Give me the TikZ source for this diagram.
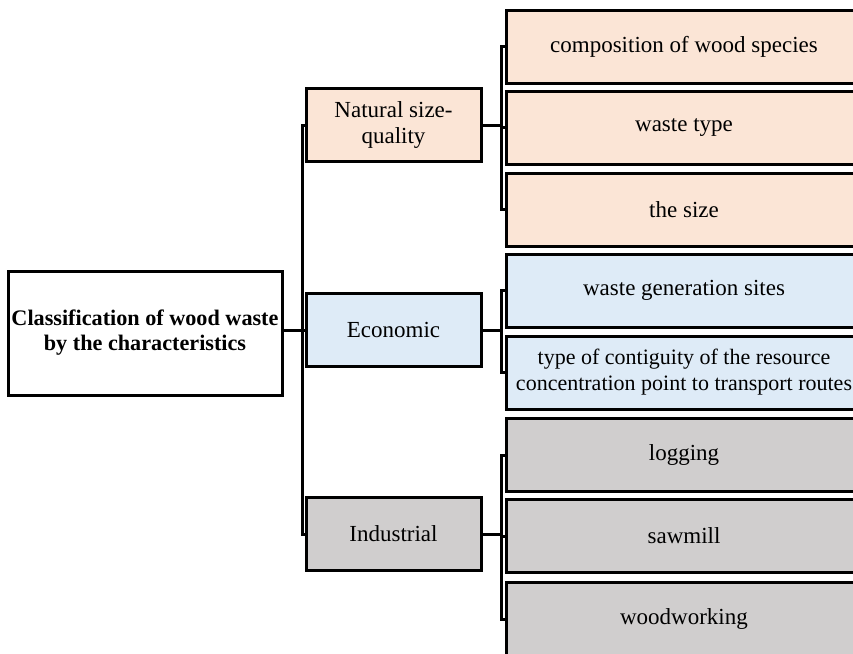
\documentclass[tikz,border=0pt]{standalone}
\usepackage{fontspec}
\setmainfont{Liberation Serif}
\begin{document}
\begin{tikzpicture}[x=1pt,y=-1pt,
  every node/.style={inner sep=0pt, align=center, font=\fontsize{23}{26}\selectfont},
  box/.style={draw=black, line width=3pt, rectangle},
  rootbox/.style={box, fill=white, minimum width=274pt, minimum height=124pt,
    font=\fontsize{22.2}{25}\selectfont\bfseries},
  midbox/.style={box, minimum width=175pt, minimum height=73pt},
  leafbox/.style={box, minimum width=356pt, minimum height=73pt},
  peach/.style={fill=peachfill},
  sky/.style={fill=skyfill},
  stone/.style={fill=stonefill},
  link/.style={draw=black, line width=3pt}
]
\definecolor{peachfill}{HTML}{FBE5D6}
\definecolor{skyfill}{HTML}{DEEBF7}
\definecolor{stonefill}{HTML}{D0CECE}

\useasboundingbox (0,0) rectangle (853,653);
\clip (0,0) rectangle (853,653);

% root
\node[rootbox] (root) at (145,333) {Classification of wood waste\\by the characteristics};

% middle level
\node[midbox, peach] (nat) at (393.5,125) {Natural size-\\quality};
\node[midbox, sky]   (eco) at (393.5,330) {Economic};
\node[midbox, stone] (ind) at (393.5,534) {Industrial};

% leaves
\node[leafbox, peach] (comp)  at (684,46.5)  {composition of wood species};
\node[leafbox, peach] (wtype) at (684,127.5) {waste type};
\node[leafbox, peach] (size)  at (684,209.5) {the size};
\node[leafbox, sky]   (sites) at (684,290.5) {waste generation sites};
\node[leafbox, sky, font=\fontsize{22}{26}\selectfont] (cont) at (684,372.5)
  {type of contiguity of the resource\\concentration point to transport routes};
\node[leafbox, stone] (logg)  at (684,455)   {logging};
\node[leafbox, stone] (saw)   at (684,536)   {sawmill};
\node[leafbox, stone] (wood)  at (684,619)   {woodworking};

% bus lines
\coordinate (trunk) at (302,0);
\coordinate (bus) at (501,0);

% root to middle level
\draw[link] (root.east |- eco.west) -- (eco.west);
\draw[link] (nat.west) -- (nat.west -| trunk) -- (ind.west -| trunk) -- (ind.west);

% natural size-quality branch
\draw[link] (nat.east) -- (nat.east -| bus);
\draw[link] (comp.west) -- (comp.west -| bus) -- (size.west -| bus) -- (size.west);
\draw[link] (wtype.west -| bus) -- (wtype.west);

% economic branch
\draw[link] (eco.east) -- (eco.east -| bus);
\draw[link] (sites.west) -- (sites.west -| bus) -- (cont.west -| bus) -- (cont.west);

% industrial branch
\draw[link] (ind.east) -- (ind.east -| bus);
\draw[link] (logg.west) -- (logg.west -| bus) -- (wood.west -| bus) -- (wood.west);
\draw[link] (saw.west -| bus) -- (saw.west);
\end{tikzpicture}
\end{document}
